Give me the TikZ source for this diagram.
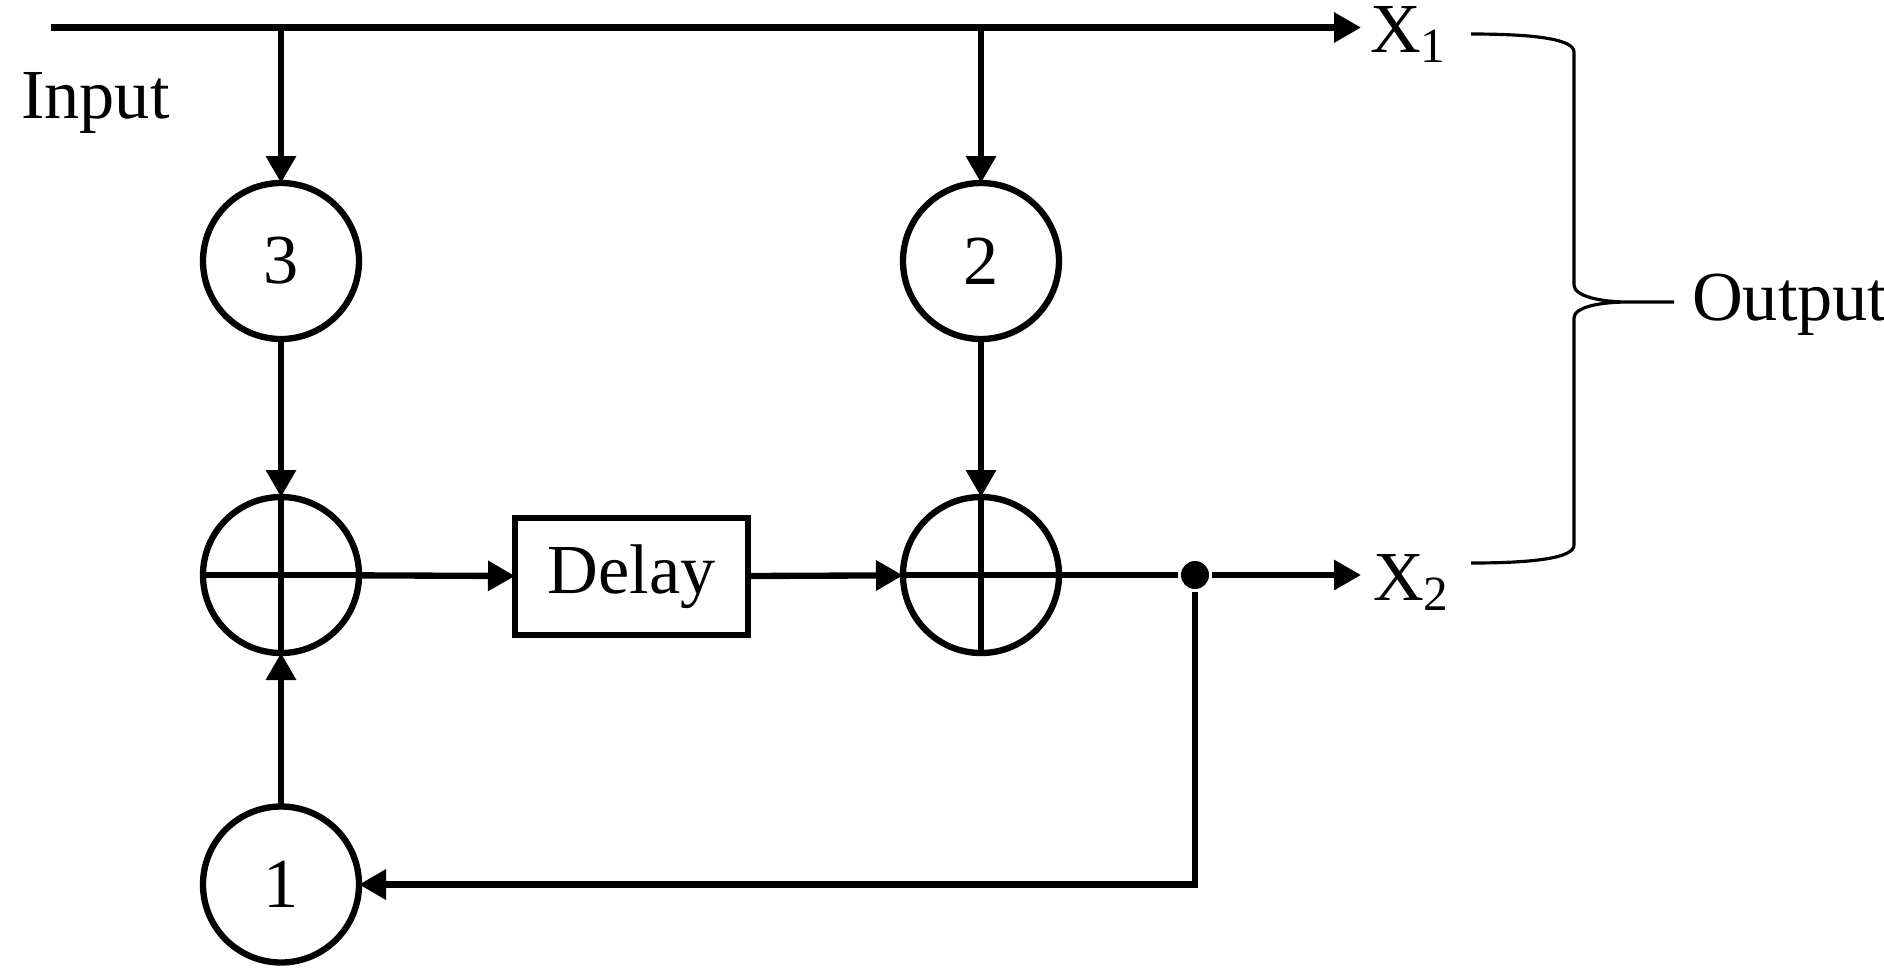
\documentclass[tikz,border=0pt]{standalone}
\usepackage{fontspec}
\setmainfont{Liberation Serif}
\usetikzlibrary{arrows.meta}
\tikzset{
	gain/.style={draw,circle,line width=1.8pt,minimum size=1.56cm,inner sep=0pt,outer sep=0pt},
	adder/.style={draw,circle,line width=1.8pt,minimum size=1.56cm,inner sep=0pt,outer sep=0pt},
	delaybox/.style={draw,rectangle,line width=1.8pt,minimum width=2.33cm,minimum height=1.17cm,inner sep=0pt,outer sep=0pt},
	lbl/.style={inner sep=0pt,font=\fontsize{20pt}{24pt}\selectfont},
}
\newcommand{\outsub}[1]{\raisebox{-0.1cm}{\fontsize{14pt}{14pt}\selectfont #1}}
\begin{document}
\begin{tikzpicture}[line width=1.8pt,>={Triangle[length=2.7mm,width=2.9mm]}]
			\useasboundingbox (0,0) rectangle (18.84,-9.69);
			\node[gain,lbl] (g3) at (2.81,-2.61) {3};
			\node[gain,lbl] (g2) at (9.81,-2.61) {2};
			\node[gain,lbl] (g1) at (2.81,-8.845) {1};
			\node[adder] (s1) at (2.81,-5.75) {};
			\node[adder] (s2) at (9.81,-5.75) {};
			\node[delaybox,lbl] (dl) at (6.315,-5.765) {Delay};
			\node[circle,fill,inner sep=0pt,minimum size=0.28cm] (dot) at (11.95,-5.75) {};
			\coordinate (in) at (0.51,-0.275);
			\coordinate (x1) at (13.61,-0.275);
			\coordinate (x2) at (13.61,-5.75);
			\coordinate (b3) at (2.81,-0.275);
			\coordinate (b2) at (9.81,-0.275);
			\draw[->] (in)--(x1);
			\draw[->] (b3)--(g3);
			\draw[->] (b2)--(g2);
			\draw[->] (g3)--(s1);
			\draw[->] (g2)--(s2);
			\draw[->] (s1)--(dl);
			\draw[->] (dl)--(s2);
			\draw (s2)--(dot);
			\draw[->] (dot)--(x2);
			\draw[->] (dot)|-(g1);
			\draw[->] (g1)--(s1);
			\foreach \s in {s1,s2} \draw[line width=1.5pt] (\s.north)--(\s.south) (\s.west)--(\s.east);
			\node[lbl,anchor=base west] (inlab) at (0.18,-1.18) {Input};
			\node[lbl,anchor=base west] (x1lab) at (13.67,-0.52) {X\outsub{1}};
			\node[lbl,anchor=base west] (x2lab) at (13.70,-6.00) {X\outsub{2}};
			\node[lbl,anchor=base west] (outlab) at (16.89,-3.20) {Output};
			\draw[line width=0.9pt] (14.71,-0.34) .. controls (15.4,-0.34) and (15.74,-0.40) .. (15.74,-0.52)
				-- (15.74,-2.85) .. controls (15.74,-2.96) and (16.0,-3.02) .. (16.28,-3.02) -- (16.74,-3.02)
				(16.28,-3.02) .. controls (16.0,-3.02) and (15.74,-3.07) .. (15.74,-3.18)
				-- (15.74,-5.45) .. controls (15.74,-5.57) and (15.4,-5.63) .. (14.71,-5.63);
		\end{tikzpicture}
\end{document}
